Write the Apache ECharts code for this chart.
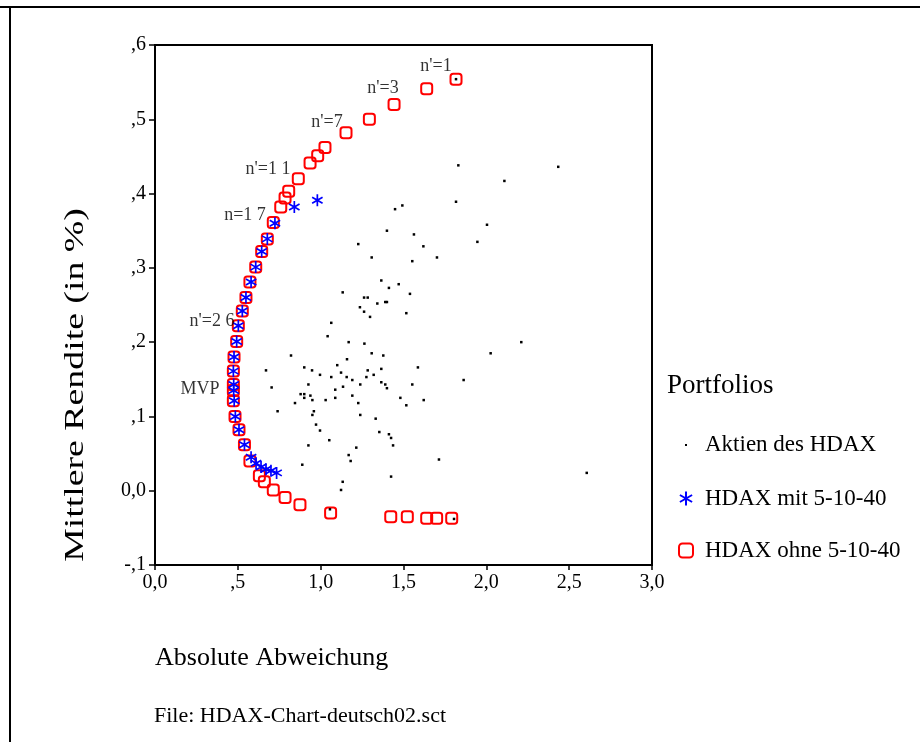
<!DOCTYPE html>
<html>
<head>
<meta charset="utf-8">
<script src="https://cdn.jsdelivr.net/npm/echarts@6/dist/echarts.min.js"></script>
<style>
html,body{margin:0;padding:0;background:#fff;}
#chart{width:920px;height:742px;}
</style>
</head>
<body>
<div id="chart"></div>
<script>
// ---- Data ----
const stocksX = [1.831,2.434,2.109,1.817,1.449,1.493,2.004,1.400,1.563,1.227,1.620,1.946,1.308,1.553,1.702,1.366,1.412,1.471,1.133,1.262,1.284,1.539,1.342,1.390,1.400,1.237,1.262,1.298,1.517,1.064,1.042,1.169,1.264,2.211,0.821,1.308,1.378,2.026,1.159,1.100,0.901,0.948,0.996,1.123,1.284,1.366,1.587,1.064,1.157,1.191,1.276,1.320,1.863,0.926,1.135,1.239,1.366,1.390,1.400,1.553,1.088,0.879,0.901,0.901,0.938,0.950,1.030,1.088,1.191,1.481,1.622,0.845,1.227,1.517,0.959,0.950,1.239,1.332,0.972,0.996,1.354,1.412,1.425,1.052,0.926,1.437,1.215,1.169,1.181,1.714,0.889,2.606,1.425,0.670,0.704,0.740,1.133,1.123,1.056,1.805,1.817];
const stocksY = [0.438,0.436,0.417,0.389,0.379,0.384,0.358,0.350,0.345,0.332,0.329,0.335,0.314,0.309,0.314,0.283,0.273,0.278,0.267,0.260,0.260,0.265,0.252,0.254,0.254,0.247,0.241,0.234,0.239,0.226,0.208,0.200,0.198,0.200,0.182,0.185,0.182,0.185,0.177,0.169,0.166,0.162,0.156,0.159,0.162,0.164,0.166,0.153,0.153,0.149,0.153,0.156,0.149,0.143,0.140,0.143,0.146,0.143,0.138,0.143,0.136,0.130,0.130,0.125,0.128,0.122,0.122,0.125,0.128,0.125,0.122,0.118,0.118,0.115,0.107,0.102,0.102,0.097,0.089,0.081,0.079,0.076,0.071,0.068,0.061,0.061,0.058,0.048,0.040,0.042,0.035,0.024,0.019,0.162,0.139,0.107,0.012,0.001,-0.025,-0.038,0.554];

const mitX = [0.980,0.841,0.724,0.678,0.644,0.608,0.580,0.549,0.527,0.503,0.493,0.477,0.473,0.475,0.475,0.478,0.485,0.507,0.540,0.580,0.610,0.640,0.670,0.700,0.734];
const mitY = [0.391,0.382,0.360,0.339,0.322,0.301,0.281,0.260,0.242,0.222,0.201,0.180,0.161,0.143,0.135,0.121,0.100,0.082,0.062,0.045,0.037,0.032,0.029,0.027,0.024];

const ohneX = [1.817,1.640,1.443,1.294,1.153,1.026,0.982,0.936,0.865,0.807,0.785,0.759,0.714,0.678,0.644,0.608,0.573,0.549,0.527,0.503,0.493,0.477,0.473,0.473,0.473,0.473,0.483,0.507,0.540,0.573,0.630,0.660,0.714,0.785,0.875,1.060,1.423,1.523,1.640,1.700,1.791];
const ohneY = [0.554,0.541,0.520,0.500,0.482,0.462,0.451,0.441,0.420,0.403,0.394,0.382,0.361,0.339,0.322,0.301,0.281,0.260,0.242,0.222,0.201,0.180,0.161,0.143,0.135,0.121,0.100,0.082,0.062,0.040,0.020,0.012,0.001,-0.009,-0.019,-0.030,-0.035,-0.035,-0.037,-0.037,-0.037];

const noteText = ["n'=1","n'=3","n'=7","n'=1 1","n=1 7","n'=2 6","MVP"];
const noteX = [1.696,1.376,1.038,0.682,0.543,0.344,0.272];
const noteY = [0.572,0.542,0.496,0.433,0.371,0.228,0.136];

const seriesNames = ["Aktien des HDAX","HDAX mit 5-10-40","HDAX ohne 5-10-40"];
const xTitle = "Absolute Abweichung";
const yTitle = "Mittlere Rendite (in %)";
const legendTitle = "Portfolios";
const fileNote = "File: HDAX-Chart-deutsch02.sct";

// ---- Helpers ----
const FONT = "'Liberation Serif','Times New Roman',serif";
const zip = (xs, ys) => xs.map((x, i) => [x, ys[i]]);
function deNum(v) {
  if (Math.abs(v) < 1e-9) return '0,0';
  let s = (Math.round(v * 10) / 10).toFixed(1).replace('.', ',');
  return s.replace(/^0,/, ',').replace(/^-0,/, '-,');
}
const starPath = 'path://M0,-10L0,10M-8.7,-5L8.7,5M-8.7,5L8.7,-5';
const roundSquarePath = 'path://M3,0L9,0A3,3 0 0 1 12,3L12,9A3,3 0 0 1 9,12L3,12A3,3 0 0 1 0,9L0,3A3,3 0 0 1 3,0Z';

const chart = echarts.init(document.getElementById('chart'), null, {renderer: 'canvas'});
chart.setOption({
  animation: false,
  backgroundColor: '#fff',
  grid: {left: 155, top: 45, width: 497, height: 520, show: true, borderColor: '#000', borderWidth: 2, backgroundColor: 'transparent'},
  xAxis: {
    type: 'value', min: 0, max: 3, interval: 0.5,
    axisLine: {show: true, onZero: false, lineStyle: {color: '#000', width: 2}},
    axisTick: {show: true, inside: false, length: 5, lineStyle: {color: '#000', width: 1.5}},
    axisLabel: {formatter: deNum, color: '#000', fontFamily: FONT, fontSize: 20, margin: 8},
    splitLine: {show: false}
  },
  yAxis: {
    type: 'value', min: -0.1, max: 0.6, interval: 0.1,
    axisLine: {show: true, onZero: false, lineStyle: {color: '#000', width: 2}},
    axisTick: {show: true, inside: false, length: 6, lineStyle: {color: '#000', width: 1.5}},
    axisLabel: {formatter: deNum, color: '#000', fontFamily: FONT, fontSize: 20, margin: 9},
    splitLine: {show: false}
  },
  legend: {
    orient: 'vertical', left: 668, top: 427,
    itemWidth: 28, itemHeight: 14, itemGap: 29,
    symbolKeepAspect: true,
    textStyle: {color: '#000', fontFamily: FONT, fontSize: 23},
    data: [
      {name: seriesNames[0], icon: 'path://M0,0L10,0L10,10L0,10Z', itemStyle: {color: '#000', borderColor: '#fff', borderWidth: 12}},
      {name: seriesNames[1]},
      {name: seriesNames[2], icon: roundSquarePath}
    ]
  },
  graphic: [
    {type: 'line', shape: {x1: 0, y1: 7, x2: 920, y2: 7}, style: {stroke: '#000', lineWidth: 2}},
    {type: 'line', shape: {x1: 10, y1: 7, x2: 10, y2: 742}, style: {stroke: '#000', lineWidth: 2}},
    {type: 'text', x: 76, y: 385, rotation: Math.PI / 2, scaleX: 1.4, style: {text: yTitle, fill: '#000', font: '27px ' + FONT, align: 'center', verticalAlign: 'middle'}},
    {type: 'text', x: 155, y: 658, style: {text: xTitle, fill: '#000', font: '26px ' + FONT, align: 'left', verticalAlign: 'middle'}},
    {type: 'text', x: 154, y: 716, style: {text: fileNote, fill: '#000', font: '22px ' + FONT, align: 'left', verticalAlign: 'middle'}},
    {type: 'text', x: 667, y: 386, style: {text: legendTitle, fill: '#000', font: '27px ' + FONT, align: 'left', verticalAlign: 'middle'}}
  ],
  series: [
    {
      name: seriesNames[2], type: 'scatter', z: 2,
      symbol: 'roundRect', symbolSize: 11,
      itemStyle: {color: 'rgba(255,255,255,0)', borderColor: '#ff0000', borderWidth: 2, opacity: 1},
      data: zip(ohneX, ohneY)
    },
    {
      name: seriesNames[1], type: 'scatter', z: 3,
      symbol: starPath, symbolSize: 12, symbolKeepAspect: true,
      itemStyle: {color: '#0000ff', borderColor: '#0000ff', borderWidth: 1.7, opacity: 1},
      data: zip(mitX, mitY)
    },
    {
      name: seriesNames[0], type: 'scatter', z: 4,
      symbol: 'rect', symbolSize: 2.5,
      itemStyle: {color: '#000', opacity: 1},
      data: zip(stocksX, stocksY)
    },
    {
      name: 'notes', type: 'scatter', z: 5, symbolSize: 0, silent: true,
      label: {show: true, position: 'inside', formatter: p => p.name, color: '#000', fontFamily: FONT, fontSize: 18},
      data: noteText.map((t, i) => ({name: t, value: [noteX[i], noteY[i]]}))
    }
  ]
});
</script>
</body>
</html>
